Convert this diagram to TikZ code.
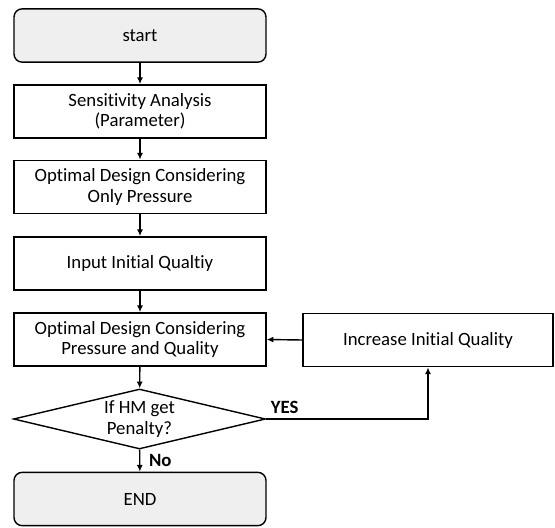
\documentclass[tikz,border=0pt]{standalone}
\usepackage{fontspec}
\setmainfont{Carlito}[Ligatures=NoCommon]
\usetikzlibrary{arrows.meta, positioning, shapes.geometric}
\definecolor{termgray}{HTML}{EFEFEF}

\begin{document}
\begin{tikzpicture}[
      x=0.03cm,
      y=-0.03cm,
      font=\fontsize{16}{17.5}\selectfont,
      flow/.style={-{Latex[length=2mm, width=1.8mm]}, line width=1.2pt, draw=black},
      stepbox/.style={draw=black, line width=1.2pt, minimum width=7.56cm,
        minimum height=1.6cm, align=center, inner sep=2pt},
      termbox/.style={stepbox, fill=termgray, rounded corners=7pt},
      decision/.style={diamond, draw=black, line width=1.2pt, aspect=4.2,
        minimum width=7.56cm, minimum height=1.8cm, inner sep=0pt, align=center},
      tag/.style={font=\fontsize{16}{17.5}\selectfont\bfseries}
  ]
    \useasboundingbox (0,0) rectangle (555,527);
    \node[termbox] (start) at (140,35.5) {start};
    \node[stepbox] (sens) at (140,111.5) {Sensitivity Analysis\\(Parameter)};
    \node[stepbox] (optp) at (140,187) {Optimal Design Considering\\Only Pressure};
    \node[stepbox] (init) at (140,263.5) {Input Initial Qualtiy};
    \node[stepbox] (optpq) at (140,339.5) {Optimal Design Considering\\Pressure and Quality};
    \node[decision] (check) at (139.5,419) {If HM get\\Penalty?};
    \node[termbox] (finish) at (140,499) {END};
    \node[stepbox, minimum width=7.5cm] (raise) at (428,340) {Increase Initial Quality};
    % main line
    \draw[flow] (start) -- (sens);
    \draw[flow] (sens) -- (optp);
    \draw[flow] (optp) -- (init);
    \draw[flow] (init) -- (optpq);
    \draw[flow] (optpq) -- (check);
    \draw[flow] (check) -- node[tag, right, xshift=4pt] {No} (finish);
    % loop back
    \draw[flow] (check.east) node[tag, above right, yshift=1pt] {YES} -| (raise.south);
    \draw[flow] (raise.west) -- (optpq.east);
  \end{tikzpicture}
\end{document}
